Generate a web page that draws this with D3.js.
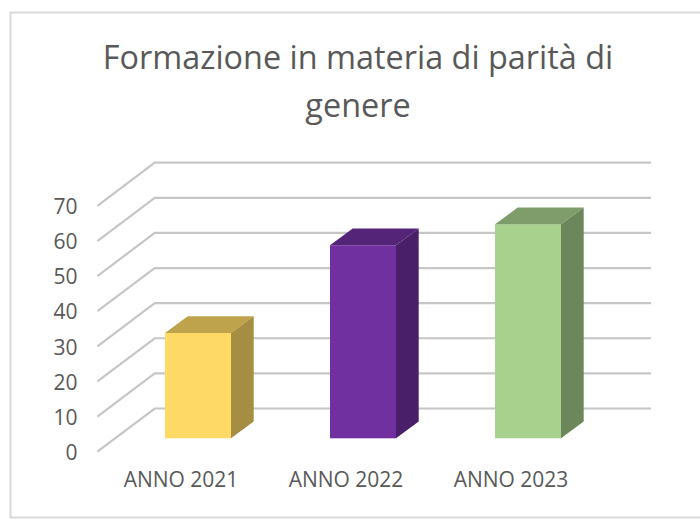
<!DOCTYPE html>
<html>
<head>
<meta charset="utf-8">
<script src="https://cdn.jsdelivr.net/npm/d3@7"></script>
<style>
html, body { margin: 0; padding: 0; background: #fff; }
svg { display: block; }
text { font-family: "Open Sans", sans-serif; fill: #595959; }
</style>
</head>
<body>
<div id="chart"></div>
<script>
// data
var categories = ["ANNO 2021", "ANNO 2022", "ANNO 2023"];
var values = [30, 55, 61];
var yTicks = [0, 10, 20, 30, 40, 50, 60, 70];
var titleLines = ["Formazione in materia di parità di", "genere"];
var frontColors = ["#ffd966", "#7030a0", "#a9d18e"];
var topColors = ["#bfa34c", "#542478", "#7f9d6a"];
var sideColors = ["#a58d41", "#481f68", "#6d875c"];

var svgWidth = 700;
var svgHeight = 519;

var svg = d3.select("#chart")
    .append("svg")
    .attr("width", svgWidth)
    .attr("height", svgHeight);

// chart frame, it runs off the right edge of the picture
svg.append("path")
    .attr("d", "M700,12.5H10.5V517.5H700")
    .attr("fill", "none")
    .attr("stroke", "#d9d9d9")
    .attr("stroke-width", 2);

// title
svg.append("g").selectAll("text")
    .data(titleLines)
    .enter()
    .append("text")
    .attr("x", 358)
    .attr("y", (d, i) => 69 + i * 48)
    .attr("text-anchor", "middle")
    .attr("font-size", 32.4)
    .text(d => d);

// scales: y gives the height on the back wall, the left wall adds the floor depth
var yBack = d3.scaleLinear().domain([0, 70]).range([408.5, 162.7]);
var wallDx = -57.3;
var wallDy = 43.2;
var xBack = [154.7, 651];

// gridlines, back wall and left wall
var grid = svg.append("g")
    .attr("fill", "none")
    .attr("stroke", "#c6c6c6")
    .attr("stroke-width", 2.2);

grid.selectAll("path")
    .data(yTicks)
    .enter()
    .append("path")
    .attr("d", d => `M${xBack[0] + wallDx},${yBack(d) + wallDy}L${xBack[0]},${yBack(d)}L${xBack[1]},${yBack(d)}`);

// y axis
var yFront = d3.scaleLinear().domain([0, 70]).range([452.7, 206.9]);
var leftAxis = d3.axisLeft(yFront).tickValues(yTicks).tickSize(0).tickPadding(0);
var yAxisGroup = svg.append("g")
    .attr("transform", "translate(77.5, 0)")
    .call(leftAxis);
yAxisGroup.select(".domain").remove();
yAxisGroup.selectAll("text")
    .attr("font-size", 21)
    .attr("font-family", "'Open Sans', sans-serif")
    .attr("fill", "#595959");

// bars: front face sits on this scale, top and side are offset by the depth
var xBand = d3.scaleBand()
    .domain(categories)
    .range([115.5, 610.5])
    .paddingInner(0.6)
    .paddingOuter(0.3);
var yBar = d3.scaleLinear().domain([0, 70]).range([438.3, 192.6]);
var depthX = 22.7;
var depthY = -16.7;
var barWidth = xBand.bandwidth();

var bars = svg.append("g")
    .selectAll("g")
    .data(categories)
    .enter()
    .append("g");

bars.append("rect")
    .attr("x", d => xBand(d))
    .attr("y", (d, i) => yBar(values[i]))
    .attr("width", barWidth)
    .attr("height", (d, i) => yBar(0) - yBar(values[i]))
    .attr("fill", (d, i) => frontColors[i]);

bars.append("path")
    .attr("fill", (d, i) => topColors[i])
    .attr("d", (d, i) => {
        var x = xBand(d), y = yBar(values[i]);
        return `M${x},${y}l${depthX},${depthY}h${barWidth}l${-depthX},${-depthY}Z`;
    });

bars.append("path")
    .attr("fill", (d, i) => sideColors[i])
    .attr("d", (d, i) => {
        var x = xBand(d) + barWidth, y = yBar(values[i]);
        return `M${x},${y}l${depthX},${depthY}V${yBar(0) + depthY}l${-depthX},${-depthY}Z`;
    });

// x axis labels
var bottomAxis = d3.axisBottom(xBand).tickSize(0).tickPadding(0);
var xAxisGroup = svg.append("g")
    .attr("transform", "translate(-17, 472.5)")
    .call(bottomAxis);
xAxisGroup.select(".domain").remove();
xAxisGroup.selectAll("text")
    .attr("font-size", 21)
    .attr("font-family", "'Open Sans', sans-serif")
    .attr("fill", "#595959");
</script>
</body>
</html>
